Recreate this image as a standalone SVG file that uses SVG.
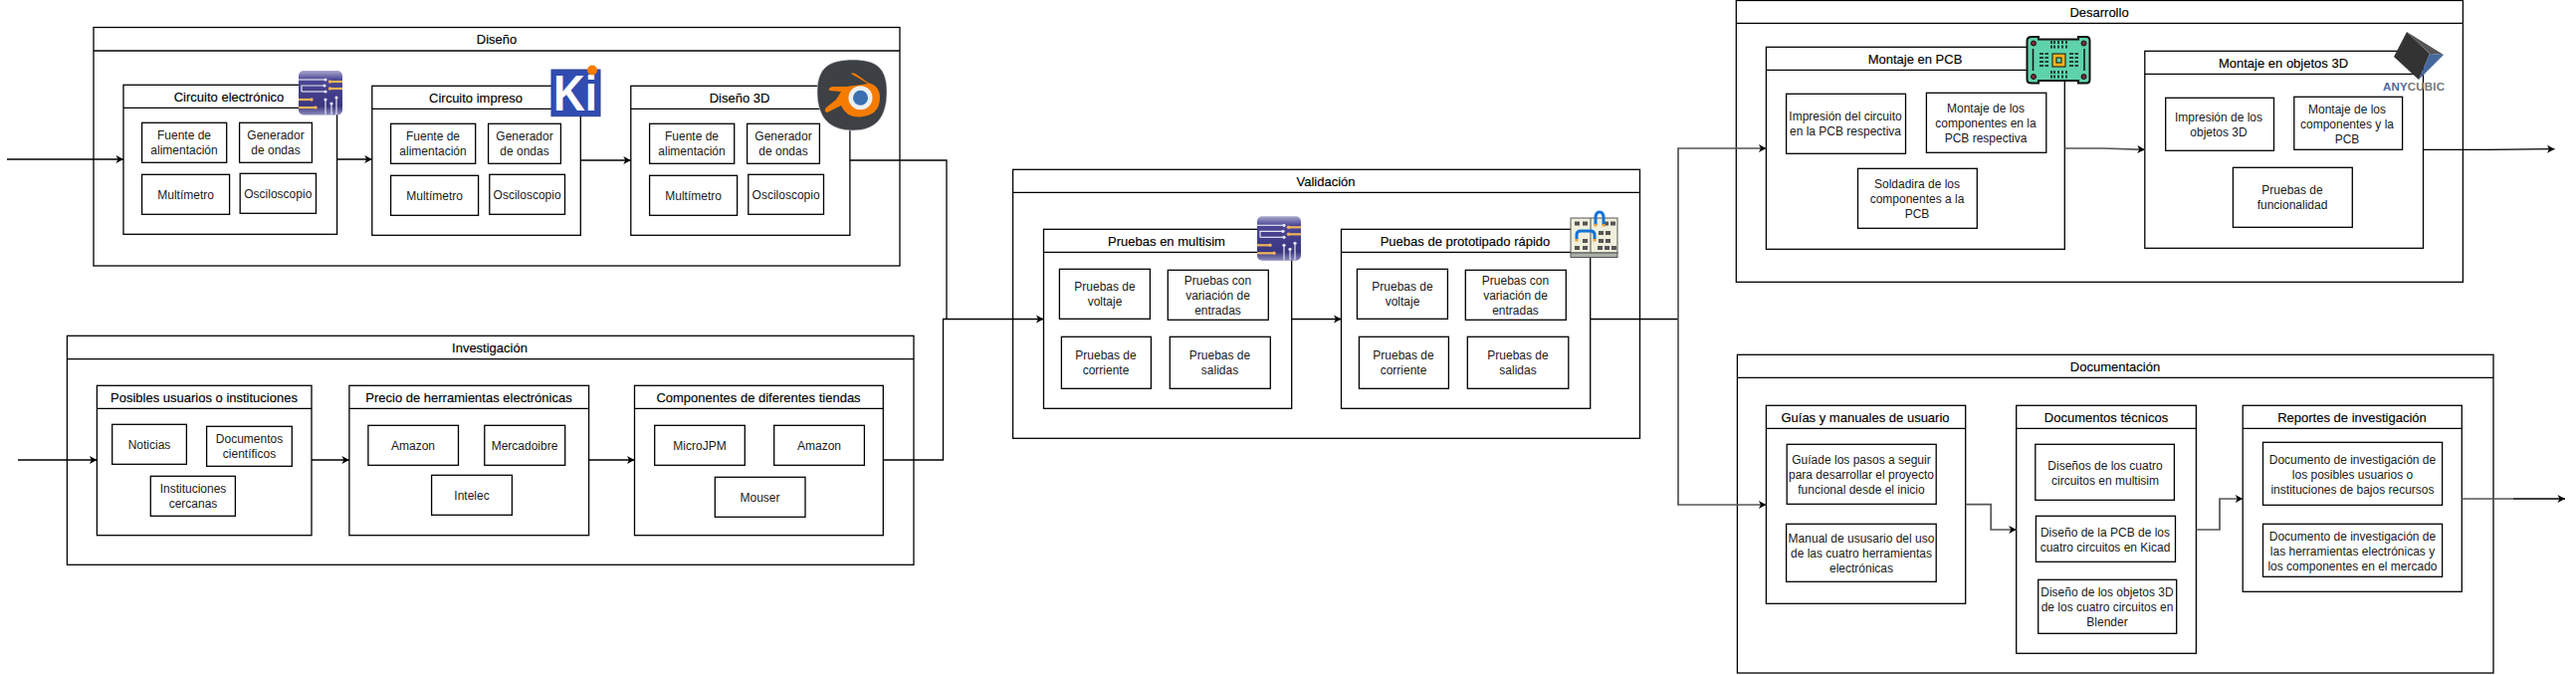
<svg xmlns="http://www.w3.org/2000/svg" width="2588" height="678" viewBox="0 0 2588 678">
<style>
text{font-family:"Liberation Sans",Arial,sans-serif;font-size:12px;fill:#1a1a1a;text-anchor:middle}
line.h + text{font-size:13px;fill:#000;stroke:#000;stroke-width:.15}
rect.b{fill:#fff;stroke:#000;stroke-width:1.3}
line.h{stroke:#000;stroke-width:1.3}
.c{fill:none;stroke:#000;stroke-width:1.3}
.g{fill:none;stroke:#555;stroke-width:1.7}
</style>
<defs>
<marker id="a" markerUnits="userSpaceOnUse" markerWidth="10" markerHeight="10" refX="8" refY="5" orient="auto"><path d="M0.500 1L8 5L0.500 9L2.500 5Z" fill="#000"/></marker>
<linearGradient id="ms" x1="0" y1="0" x2="0" y2="1"><stop offset="0" stop-color="#a9a8cc"/><stop offset=".2" stop-color="#4b4795"/><stop offset=".8" stop-color="#3a3680"/><stop offset="1" stop-color="#8f8cbc"/></linearGradient>
<g id="msicon">
<rect x="0" y="0" width="44" height="44.500" rx="5" fill="url(#ms)"/>
<g fill="none" stroke="#e6e6f2" stroke-width="1.200">
<path d="M0 9H26"/><path d="M3 21V15H25"/><path d="M3 21H26"/><path d="M27 44V30"/><path d="M33 44V33"/><path d="M38 44V28"/>
</g>
<g fill="#e6e6f2"><circle cx="27" cy="9" r="1.600"/><circle cx="26" cy="15" r="1.600"/><circle cx="27" cy="21" r="1.600"/><circle cx="27" cy="29" r="1.600"/><circle cx="33" cy="33" r="1.600"/><circle cx="38" cy="27" r="1.600"/></g>
<g stroke="#f0b45a" stroke-width="2.200" fill="none"><path d="M32 11H44"/><path d="M32 18H44"/><path d="M0 29H12"/><path d="M0 37H16"/></g>
<g fill="#f0b45a"><circle cx="31.500" cy="11" r="1.700"/><circle cx="31.500" cy="18" r="1.700"/><circle cx="13" cy="29" r="1.700"/><circle cx="17" cy="37" r="1.700"/></g>
</g>
</defs>

<g id="disenio">
<rect class="b" x="94" y="27.500" width="810" height="239.500"/><line class="h" x1="94" y1="51" x2="904" y2="51"/><text x="499" y="44">Diseño</text>
<g id="circuito-electronico">
<rect class="b" x="124" y="85.300" width="214.600" height="150"/><line class="h" x1="124" y1="108.300" x2="338.600" y2="108.300"/><text x="230" y="102">Circuito electrónico</text>
<rect class="b" x="142.600" y="123.300" width="85.100" height="40"/><text x="185" y="140.300">Fuente de</text><text x="185" y="155.300">alimentación</text>
<rect class="b" x="240.600" y="123.300" width="72.800" height="40"/><text x="277" y="140.300">Generador</text><text x="277" y="155.300">de ondas</text>
<rect class="b" x="142.600" y="175.300" width="88" height="40"/><text x="186.600" y="199.800">Multímetro</text>
<rect class="b" x="241.200" y="174.300" width="76.300" height="40"/><text x="279.300" y="198.800">Osciloscopio</text>
</g>
<g id="circuito-impreso">
<rect class="b" x="373.800" y="86.300" width="209.500" height="150"/><line class="h" x1="373.800" y1="109.300" x2="583.300" y2="109.300"/><text x="478" y="103">Circuito impreso</text>
<rect class="b" x="392.600" y="124.300" width="85.100" height="40"/><text x="435" y="141.300">Fuente de</text><text x="435" y="156.300">alimentación</text>
<rect class="b" x="490.600" y="124.300" width="72.800" height="40"/><text x="527" y="141.300">Generador</text><text x="527" y="156.300">de ondas</text>
<rect class="b" x="392.600" y="176.300" width="88" height="40"/><text x="436.600" y="200.800">Multímetro</text>
<rect class="b" x="491.800" y="175.300" width="75.700" height="40"/><text x="529.600" y="199.800">Osciloscopio</text>
</g>
<g id="disenio-3d">
<rect class="b" x="633.800" y="86.300" width="220.100" height="150"/><line class="h" x1="633.800" y1="109.300" x2="853.900" y2="109.300"/><text x="743" y="103">Diseño 3D</text>
<rect class="b" x="652.600" y="124.300" width="85.100" height="40"/><text x="695" y="141.300">Fuente de</text><text x="695" y="156.300">alimentación</text>
<rect class="b" x="750.600" y="124.300" width="72.800" height="40"/><text x="787" y="141.300">Generador</text><text x="787" y="156.300">de ondas</text>
<rect class="b" x="652.600" y="176.300" width="88" height="40"/><text x="696.600" y="200.800">Multímetro</text>
<rect class="b" x="751.800" y="175.300" width="75.700" height="40"/><text x="789.600" y="199.800">Osciloscopio</text>
</g>
</g>

<g id="investigacion">
<rect class="b" x="67.400" y="337.300" width="850.600" height="230"/><line class="h" x1="67.400" y1="360.700" x2="918" y2="360.700"/><text x="492" y="354">Investigación</text>
<g id="posibles-usuarios">
<rect class="b" x="97.400" y="387.300" width="215.600" height="150.400"/><line class="h" x1="97.400" y1="410.300" x2="313" y2="410.300"/><text x="205" y="404">Posibles usuarios o instituciones</text>
<rect class="b" x="112.700" y="426.300" width="74.700" height="40"/><text x="150" y="450.800">Noticias</text>
<rect class="b" x="207.600" y="428.300" width="85.700" height="40"/><text x="250.500" y="445.300">Documentos</text><text x="250.500" y="460.300">científicos</text>
<rect class="b" x="151.300" y="478.300" width="85.100" height="40"/><text x="194" y="495.300">Instituciones</text><text x="194" y="510.300">cercanas</text>
</g>
<g id="precio-herramientas">
<rect class="b" x="350.900" y="387.300" width="240.700" height="150.400"/><line class="h" x1="350.900" y1="410.300" x2="591.600" y2="410.300"/><text x="471" y="404">Precio de herramientas electrónicas</text>
<rect class="b" x="369.900" y="427.300" width="90.600" height="40"/><text x="415" y="451.800">Amazon</text>
<rect class="b" x="486.800" y="427.300" width="80.900" height="40"/><text x="527" y="451.800">Mercadoibre</text>
<rect class="b" x="433.600" y="477.300" width="80.800" height="40"/><text x="474" y="501.800">Intelec</text>
</g>
<g id="componentes-tiendas">
<rect class="b" x="637.500" y="387.300" width="249.800" height="150.400"/><line class="h" x1="637.500" y1="410.300" x2="887.300" y2="410.300"/><text x="762" y="404">Componentes de diferentes tiendas</text>
<rect class="b" x="657.700" y="427.300" width="90.600" height="40"/><text x="703" y="451.800">MicroJPM</text>
<rect class="b" x="777.700" y="427.300" width="90.700" height="40"/><text x="823" y="451.800">Amazon</text>
<rect class="b" x="718.300" y="479.300" width="90.700" height="40"/><text x="763.500" y="503.800">Mouser</text>
</g>
</g>

<g id="validacion">
<rect class="b" x="1017.600" y="170.300" width="629.900" height="270"/><line class="h" x1="1017.600" y1="193.300" x2="1647.500" y2="193.300"/><text x="1332" y="187">Validación</text>
<g id="pruebas-multisim">
<rect class="b" x="1048.500" y="230.300" width="249.200" height="180"/><line class="h" x1="1048.500" y1="253.300" x2="1297.700" y2="253.300"/><text x="1172" y="247">Pruebas en multisim</text>
<rect class="b" x="1064.400" y="270.300" width="91" height="50"/><text x="1110" y="292.300">Pruebas de</text><text x="1110" y="307.300">voltaje</text>
<rect class="b" x="1173.300" y="271.300" width="101" height="50"/><text x="1223.500" y="286.300">Pruebas con</text><text x="1223.500" y="300.800">variación de</text><text x="1223.500" y="315.800">entradas</text>
<rect class="b" x="1066.400" y="338.300" width="90" height="52"/><text x="1111" y="361.300">Pruebas de</text><text x="1111" y="376.300">corriente</text>
<rect class="b" x="1175.300" y="338.300" width="101" height="52"/><text x="1225.500" y="361.300">Pruebas de</text><text x="1225.500" y="376.300">salidas</text>
</g>
<g id="pruebas-prototipado">
<rect class="b" x="1347.500" y="230.300" width="250.200" height="180"/><line class="h" x1="1347.500" y1="253.300" x2="1597.700" y2="253.300"/><text x="1472" y="247">Puebas de prototipado rápido</text>
<rect class="b" x="1363.400" y="270.300" width="91" height="50"/><text x="1409" y="292.300">Pruebas de</text><text x="1409" y="307.300">voltaje</text>
<rect class="b" x="1472.300" y="271.300" width="101" height="50"/><text x="1522.500" y="286.300">Pruebas con</text><text x="1522.500" y="300.800">variación de</text><text x="1522.500" y="315.800">entradas</text>
<rect class="b" x="1365.400" y="338.300" width="90" height="52"/><text x="1410" y="361.300">Pruebas de</text><text x="1410" y="376.300">corriente</text>
<rect class="b" x="1474.300" y="338.300" width="101.500" height="52"/><text x="1525" y="361.300">Pruebas de</text><text x="1525" y="376.300">salidas</text>
</g>
</g>

<g id="desarrollo">
<rect class="b" x="1744.300" y="0.500" width="730.100" height="282.800"/><line class="h" x1="1744.300" y1="23.300" x2="2474.400" y2="23.300"/><text x="2109" y="17">Desarrollo</text>
<g id="montaje-pcb">
<rect class="b" x="1774.400" y="47.300" width="299.900" height="203"/><line class="h" x1="1774.400" y1="70.300" x2="2074.300" y2="70.300"/><text x="1924" y="64">Montaje en PCB</text>
<rect class="b" x="1794.600" y="94.300" width="119.900" height="60"/><text x="1854" y="121.300">Impresión del circuito</text><text x="1854" y="136.300">en la PCB respectiva</text>
<rect class="b" x="1935.400" y="93.300" width="120.400" height="60"/><text x="1995" y="113.300">Montaje de los</text><text x="1995" y="127.800">componentes en la</text><text x="1995" y="142.800">PCB respectiva</text>
<rect class="b" x="1866.500" y="169.300" width="119.800" height="60"/><text x="1926" y="189">Soldadira de los</text><text x="1926" y="203.500">componentes a la</text><text x="1926" y="218.500">PCB</text>
</g>
<g id="montaje-3d">
<rect class="b" x="2154.800" y="51.300" width="279.700" height="198"/><line class="h" x1="2154.800" y1="74.300" x2="2434.500" y2="74.300"/><text x="2294" y="68">Montaje en objetos 3D</text>
<rect class="b" x="2175.700" y="98.300" width="108.800" height="53"/><text x="2229" y="122.300">Impresión de los</text><text x="2229" y="137.300">objetos 3D</text>
<rect class="b" x="2304.800" y="97.300" width="108.800" height="53"/><text x="2358" y="114.300">Montaje de los</text><text x="2358" y="128.800">componentes y la</text><text x="2358" y="143.800">PCB</text>
<rect class="b" x="2243.400" y="168.300" width="119.900" height="60"/><text x="2303" y="195.300">Pruebas de</text><text x="2303" y="210.300">funcionalidad</text>
</g>
</g>

<g id="documentacion">
<rect class="b" x="1745.400" y="356.300" width="759.600" height="319.700"/><line class="h" x1="1745.400" y1="379.300" x2="2505" y2="379.300"/><text x="2125" y="373">Documentación</text>
<g id="guias-manuales">
<rect class="b" x="1774.400" y="407.300" width="200.300" height="199"/><line class="h" x1="1774.400" y1="430.300" x2="1974.700" y2="430.300"/><text x="1874" y="424">Guías y manuales de usuario</text>
<rect class="b" x="1795.200" y="446.300" width="150" height="60"/><text x="1870" y="466">Guíade los pasos a seguir</text><text x="1870" y="480.500">para desarrollar el proyecto</text><text x="1870" y="495.500">funcional desde el inicio</text>
<rect class="b" x="1794.600" y="526.300" width="150.600" height="58"/><text x="1870" y="545">Manual de ususario del uso</text><text x="1870" y="559.500">de las cuatro herramientas</text><text x="1870" y="574.500">electrónicas</text>
</g>
<g id="documentos-tecnicos">
<rect class="b" x="2025.700" y="407.300" width="180.700" height="249"/><line class="h" x1="2025.700" y1="430.300" x2="2206.400" y2="430.300"/><text x="2116" y="424">Documentos técnicos</text>
<rect class="b" x="2044.800" y="446.300" width="139.600" height="56"/><text x="2115" y="471.500">Diseños de los cuatro</text><text x="2115" y="486.500">circuitos en multisim</text>
<rect class="b" x="2045.400" y="518.300" width="140.100" height="46"/><text x="2115" y="538.500">Diseño de la PCB de los</text><text x="2115" y="553.500">cuatro circuitos en Kicad</text>
<rect class="b" x="2047.700" y="582.300" width="139" height="54"/><text x="2117" y="599">Diseño de los objetos 3D</text><text x="2117" y="613.500">de los cuatro circuitos en</text><text x="2117" y="628.500">Blender</text>
</g>
<g id="reportes-investigacion">
<rect class="b" x="2253.200" y="407.300" width="220.100" height="187"/><line class="h" x1="2253.200" y1="430.300" x2="2473.300" y2="430.300"/><text x="2363" y="424">Reportes de investigación</text>
<rect class="b" x="2273.500" y="444.300" width="180.100" height="63"/><text x="2363.500" y="466">Documento de investigación de</text><text x="2363.500" y="480.500">los posibles usuarios o</text><text x="2363.500" y="495.500">instituciones de bajos recursos</text>
<rect class="b" x="2273.500" y="526.300" width="180.100" height="53"/><text x="2363.500" y="543">Documento de investigación de</text><text x="2363.500" y="557.500">las herramientas electrónicas y</text><text x="2363.500" y="572.500">los componentes en el mercado</text>
</g>
</g>

<g id="connectors">
<path class="c" marker-end="url(#a)" d="M7 160H124"/>
<path class="c" marker-end="url(#a)" d="M338.600 160H373.800"/>
<path class="c" marker-end="url(#a)" d="M583.300 161H633.800"/>
<path class="c" d="M853.900 161H951V320.500"/>
<path class="c" marker-end="url(#a)" d="M18 462H97.400"/>
<path class="c" marker-end="url(#a)" d="M313 462H350.900"/>
<path class="c" marker-end="url(#a)" d="M591.600 462H637.500"/>
<path class="c" marker-end="url(#a)" d="M887.300 462H947.500V320.500H1048.500"/>
<path class="c" marker-end="url(#a)" d="M1297.700 320.500H1347.500"/>
<path class="c" d="M1597.700 320.500H1686"/>
<path class="g" marker-end="url(#a)" d="M1686 320.500V149H1774.400"/>
<path class="g" marker-end="url(#a)" d="M1686 320.500V507H1774.400"/>
<path class="g" marker-end="url(#a)" d="M2074.300 149H2113L2154.800 150.300"/>
<path class="c" marker-end="url(#a)" d="M2434.500 150.300H2500L2566.500 149.700"/>
<path class="g" marker-end="url(#a)" d="M1974.700 506.700H2000.200V532H2025.700"/>
<path class="g" marker-end="url(#a)" d="M2206.400 532H2230V501H2253.200"/>
<path class="g" d="M2473.300 501H2525"/>
<path class="c" marker-end="url(#a)" d="M2525 501H2577"/>
</g>

<g id="icon-multisim-1"><use href="#msicon" x="300" y="71"/></g>
<g id="icon-multisim-2"><use href="#msicon" x="1263" y="217.300"/></g>

<g id="icon-kicad">
<rect x="554" y="70" width="49" height="46.700" fill="#314cb0" stroke="#2a3f96"/>
<text x="578" y="111" style="font-size:50px;font-weight:700;fill:#fff" textLength="44" lengthAdjust="spacingAndGlyphs">Ki</text>
<circle cx="595" cy="70.500" r="5" fill="#f57c00"/>
</g>

<g id="icon-blender">
<path d="M857 60C880 60 891 68 891 92C891 118 880 131 857 131C833 131 821 118 821 92C821 68 833 60 857 60Z" fill="#3d4045" stroke="#d8d8d8" stroke-width=".6"/>
<path d="M855 74L872 84L866 85L850 87L836 87Q832 88 833 91L845 92L840 100L830 108Q827 112 831 113L845 106Q850 118 864 117.500Q884 116 884 98Q884 86 872 83L861 75Q857 72 855 74Z" fill="#f57c00"/>
<circle cx="864.500" cy="98.300" r="12" fill="#eceff1"/>
<circle cx="864.500" cy="98.300" r="7.500" fill="#3a6fb0"/>
</g>

<g id="icon-prototipado">
<rect x="1578" y="219" width="47" height="35" fill="#efefdc" stroke="#555"/>
<rect x="1578" y="254" width="47" height="4.500" fill="#aab0a6" stroke="#555"/>
<g fill="#555"><rect x="1582" y="222.500" width="5" height="4"/><rect x="1590" y="222.500" width="5" height="4"/><rect x="1611" y="222.500" width="5" height="4"/><rect x="1618" y="222.500" width="5" height="4"/>
<rect x="1606" y="232" width="5" height="4"/><rect x="1613" y="232" width="5" height="4"/><rect x="1606" y="240" width="5" height="4"/><rect x="1613" y="240" width="5" height="4"/><rect x="1590" y="240" width="5" height="4"/>
<rect x="1582" y="247" width="5" height="4"/><rect x="1590" y="247" width="5" height="4"/><rect x="1605" y="247" width="5" height="4"/><rect x="1612" y="247" width="5" height="4"/><rect x="1619" y="247" width="5" height="4"/></g>
<path d="M1598 219V254" stroke="#555" fill="none"/>
<g fill="none" stroke="#1273d6" stroke-width="3"><path d="M1603 226V219Q1603 213 1607 213Q1611 213 1611 219V226"/><path d="M1584 240V236Q1584 232 1588 232H1598Q1602 232 1602 236V240"/></g>
<g fill="#f0a030"><rect x="1601.500" y="225" width="3" height="2.500"/><rect x="1609.500" y="225" width="3" height="2.500"/><rect x="1582.500" y="240" width="3" height="2.500"/><rect x="1600.500" y="240" width="3" height="2.500"/></g>
</g>

<g id="icon-pcb">
<path d="M2041 37H2048V39.500H2088V37H2096Q2099.500 37 2099.500 41V80Q2099.500 83.500 2096 83.500H2088V81H2048V83.500H2041Q2036.500 83.500 2036.500 80V41Q2036.500 37 2041 37Z" fill="#5ed3ab" stroke="#111" stroke-width="2"/>
<g fill="#7a2a3a" stroke="#111"><circle cx="2043" cy="43.500" r="2.500"/><circle cx="2093.500" cy="43.500" r="2.500"/><circle cx="2043" cy="77" r="2.500"/><circle cx="2093.500" cy="77" r="2.500"/></g>
<path d="M2042.500 49V71M2094 49V71" stroke="#111" stroke-width="1.500"/>
<rect x="2062" y="54" width="13" height="13" fill="#f5b21a" stroke="#111"/><rect x="2066" y="58" width="5" height="5" fill="#5ed3ab" stroke="#111"/>
<path d="M2061 41V50M2064 41V50M2068 41V50M2072 41V50M2076 41V50M2061 71V80M2064 71V80M2068 71V80M2072 71V80M2076 71V80" stroke="#111" stroke-width="1.500" stroke-dasharray="3 1.500" fill="none"/>
<path d="M2049 54H2058M2049 58H2058M2049 62H2058M2049 66H2058M2079 54H2088M2079 58H2088M2079 62H2088M2079 66H2088" stroke="#111" stroke-width="1.500" stroke-dasharray="4 1.500" fill="none"/>
</g>

<g id="icon-anycubic">
<path d="M2418 32L2405 57L2430 80L2441 54Z" fill="#333"/>
<path d="M2418 32L2441 54L2455 55Z" fill="#555"/>
<path d="M2441 54L2455 55L2430 80Z" fill="#46689e"/>
<text x="2425" y="91" style="font-size:11.500px;font-weight:700;fill:#777" textLength="62" lengthAdjust="spacing"><tspan style="fill:#4a6a9e">ANY</tspan>CUBIC</text>
</g>
</svg>
